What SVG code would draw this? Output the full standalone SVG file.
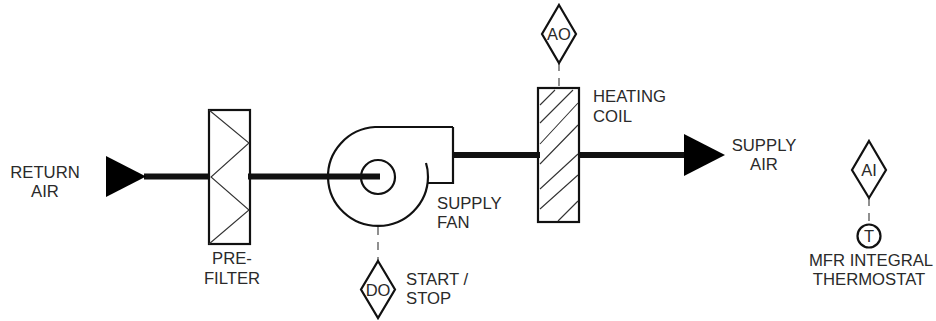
<svg xmlns="http://www.w3.org/2000/svg" width="936" height="321" viewBox="0 0 936 321">
<style>
.o{fill:none;stroke:#111;stroke-width:2.2}
.h{fill:none;stroke:#333;stroke-width:1.1}
.p{fill:none;stroke:#111;stroke-width:6}
.d{fill:none;stroke:#555;stroke-width:1.3;stroke-dasharray:8 7}
.a{fill:#000;stroke:none}
text{font-family:"Liberation Sans",Arial,sans-serif;font-size:16.7px;fill:#2a2a2a}
.m{text-anchor:middle}
.s{font-size:16.500px}
</style>
<rect width="936" height="321" fill="#fff"/>
<g id="connectors">
<path class="p" d="M144 176.500H210"/>
<path class="p" d="M248 176.500H380"/>
<path class="p" d="M452 155H540"/>
<path class="p" d="M578 155H686"/>
<path class="d" d="M378 227V261"/>
<path class="d" d="M559 63V88"/>
<path class="d" d="M869 198V224" stroke-dasharray="9 8"/>
</g>
<g id="return-air"><path class="a" d="M106 156L146 176.500L106 197Z"/><text class="m" x="45" y="178">RETURN</text><text class="m" x="45" y="197">AIR</text></g>
<g id="pre-filter"><rect class="o" x="209" y="110" width="41" height="134"/><path class="h" d="M209 110L249 143L211 177L249 210L209 244"/><text class="m" x="232" y="264">PRE-</text><text class="m" x="232" y="284">FILTER</text></g>
<g id="supply-fan"><path class="o" d="M453 127H375A50 49.500 0 1 0 428 177Q428 169 426 163M428 183H453V127"/><circle class="o" cx="378" cy="177" r="17"/><text x="437" y="209">SUPPLY</text><text x="437" y="228">FAN</text></g>
<g id="heating-coil"><rect class="o" x="538" y="88" width="41" height="134"/><path class="h" d="M540 105L555 90M540 123L573 90M540 144L578 103M540 164L578 125M540 189L578 154M540 209L578 175M558 221L578 201"/><text x="593" y="102">HEATING</text><text x="593" y="122">COIL</text></g>
<g id="supply-air"><path class="a" d="M684 134L725 155L684 176Z"/><text class="m" x="764" y="151">SUPPLY</text><text class="m" x="764" y="170">AIR</text></g>
<g id="do"><path class="o" d="M378 261L395 289.500L378 318L361 289.500Z"/><text class="m s" x="378" y="295.500">DO</text><text x="406" y="285">START /</text><text x="406" y="304">STOP</text></g>
<g id="ao"><path class="o" d="M559 5L576 34L559 63L542 34Z"/><text class="m s" x="559" y="40">AO</text></g>
<g id="ai"><path class="o" d="M869 141L886 170L869 198L852 170Z"/><text class="m s" x="869" y="176">AI</text></g>
<g id="thermostat"><circle class="o" cx="869" cy="236" r="11.500"/><text class="m s" x="869" y="242">T</text><text class="m" x="871" y="266">MFR INTEGRAL</text><text class="m" x="869" y="285">THERMOSTAT</text></g>
</svg>
